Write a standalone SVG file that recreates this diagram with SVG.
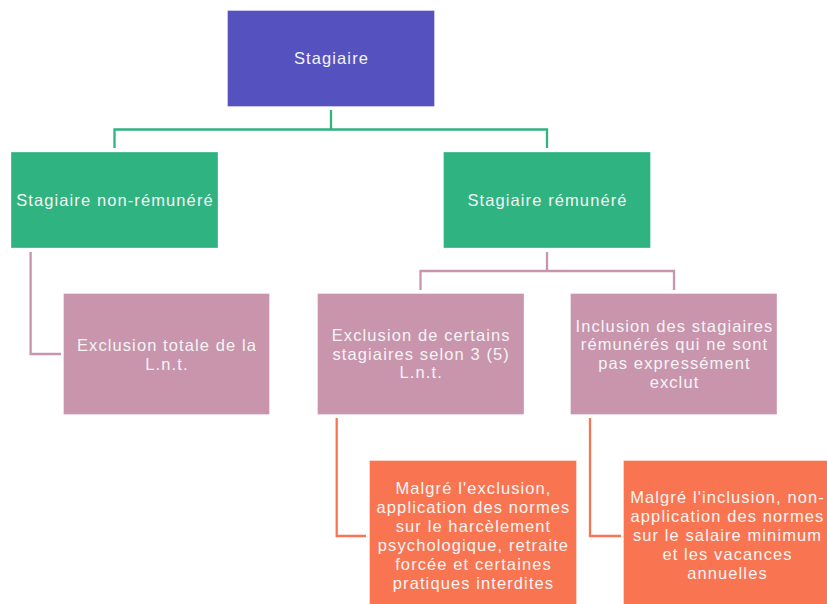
<svg xmlns="http://www.w3.org/2000/svg" width="827" height="604" viewBox="0 0 827 604">
<style>
.t{font-family:"Liberation Sans",Arial,sans-serif;font-size:16.5px;letter-spacing:1.1px;fill:#F4F4F4;text-anchor:middle}
.g{fill:#2FB380}
.p{fill:#C895AD}
.o{fill:#F97552}
.cg{stroke:#2FB380;stroke-width:2.3;fill:none}
.cp{stroke:#C895AD;stroke-width:2.3;fill:none}
.co{stroke:#F97552;stroke-width:2.3;fill:none}
rect{stroke:#ffffff;stroke-opacity:0.35;stroke-width:1}
</style>
<rect width="827" height="604" fill="#ffffff" style="stroke:none"/>
<g id="connectors">
<path class="cg" d="M331 110 V129.5 M114.5 148 V129.5 H547 V148"/>
<path class="cp" d="M547 252 V271 M420.5 290 V271 H674 V290"/>
<path class="cp" d="M30.6 252 V354 H61"/>
<path class="co" d="M336.7 418 V536 H366"/>
<path class="co" d="M590 418 V536 H621"/>
</g>
<g id="root">
<rect x="227.5" y="10.5" width="207" height="96" fill="#5552BF"/>
<text class="t" x="331.5" y="64">Stagiaire</text>
</g>
<g id="unpaid">
<rect class="g" x="11" y="152" width="207" height="96"/>
<text class="t" x="115" y="206">Stagiaire non-rémunéré</text>
</g>
<g id="paid">
<rect class="g" x="443.5" y="152" width="207" height="96"/>
<text class="t" x="547.5" y="206">Stagiaire rémunéré</text>
</g>
<g id="total-exclusion">
<rect class="p" x="63.5" y="293.5" width="206" height="121"/>
<text class="t" x="167" y="351">Exclusion totale de la</text>
<text class="t" x="167" y="369.5">L.n.t.</text>
</g>
<g id="partial-exclusion">
<rect class="p" x="317.5" y="293.5" width="206.5" height="121"/>
<text class="t" x="421.2" y="341">Exclusion de certains</text>
<text class="t" x="421.2" y="359.5">stagiaires selon 3 (5)</text>
<text class="t" x="421.2" y="378">L.n.t.</text>
</g>
<g id="inclusion">
<rect class="p" x="570.5" y="293.5" width="206.5" height="121"/>
<text class="t" x="674.5" y="331.5">Inclusion des stagiaires</text>
<text class="t" x="674.5" y="350">rémunérés qui ne sont</text>
<text class="t" x="674.5" y="369">pas expressément</text>
<text class="t" x="674.5" y="387.5">exclut</text>
</g>
<g id="exclusion-note">
<rect class="o" x="369.5" y="460.5" width="207" height="150"/>
<text class="t" x="473.5" y="494">Malgré l'exclusion,</text>
<text class="t" x="473.5" y="513">application des normes</text>
<text class="t" x="473.5" y="532">sur le harcèlement</text>
<text class="t" x="473.5" y="551">psychologique, retraite</text>
<text class="t" x="473.5" y="570">forcée et certaines</text>
<text class="t" x="473.5" y="589">pratiques interdites</text>
</g>
<g id="inclusion-note">
<rect class="o" x="623.5" y="460.5" width="207" height="150"/>
<text class="t" x="727.5" y="502.5">Malgré l'inclusion, non-</text>
<text class="t" x="727.5" y="521.5">application des normes</text>
<text class="t" x="727.5" y="540.5">sur le salaire minimum</text>
<text class="t" x="727.5" y="559.5">et les vacances</text>
<text class="t" x="727.5" y="578.5">annuelles</text>
</g>
</svg>
